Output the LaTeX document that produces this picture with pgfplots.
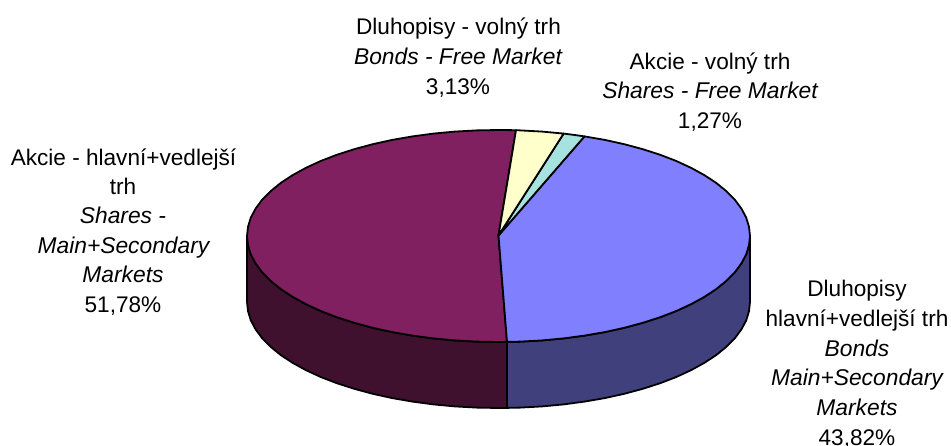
\documentclass[border=0pt]{standalone}
\usepackage{pgfplots}
\pgfplotsset{compat=1.18}
\usepackage{fontspec}
\setmainfont{Liberation Sans}
\tikzset{
  lbl/.style={anchor=base, font=\fontsize{22.6}{24}\selectfont, text=black, inner sep=0pt},
  ilbl/.style={anchor=base, font=\fontsize{22.8}{24}\selectfont\itshape, text=black, inner sep=0pt},
}
\begin{document}
\begin{tikzpicture}
\definecolor{cPurple}{RGB}{128,32,96}
\definecolor{cPurpleD}{RGB}{64,16,47}
\definecolor{cBlue}{RGB}{128,128,255}
\definecolor{cBlueD}{RGB}{64,64,125}
\definecolor{cYellow}{RGB}{255,255,204}
\definecolor{cTeal}{RGB}{166,227,224}
\path[use as bounding box] (0,0) rectangle (951pt,446pt);
\begin{axis}[
  at={(0,0)}, anchor=south west,
  scale only axis, width=951pt, height=446pt,
  xmin=0, xmax=951, ymin=0, ymax=446, y dir=reverse,
  axis lines=none, clip=false,
  every axis plot/.append style={draw=black, line width=1.8pt, line join=round, mark=none},
]
% side walls
\addplot[fill=cPurpleD] coordinates {
(247,236)(248,245.2)(250.8,254.4)(255.6,263.4)(262.2,272.3)(270.6,280.8)(280.7,289)(292.5,296.8)(305.8,304.1)(320.7,311)(336.8,317.2)(354.2,322.8)(372.7,327.8)(392.2,332.1)(412.5,335.6)(433.4,338.4)(454.8,340.4)(476.6,341.6)(498.5,342)(507,341.9)
(507,407.9)(498.5,408)(476.6,407.6)(454.8,406.4)(433.4,404.4)(412.5,401.6)(392.2,398.1)(372.7,393.8)(354.2,388.8)(336.8,383.2)(320.7,377)(305.8,370.1)(292.5,362.8)(280.7,355)(270.6,346.8)(262.2,338.3)(255.6,329.4)(250.8,320.4)(248,311.2)(247,302)
} --cycle;
\addplot[fill=cBlueD] coordinates {
(507,341.9)(520.4,341.6)(542.2,340.4)(563.6,338.4)(584.5,335.6)(604.8,332.1)(624.3,327.8)(642.8,322.8)(660.2,317.2)(676.3,311)(691.2,304.1)(704.5,296.8)(716.3,289)(726.4,280.8)(734.8,272.3)(741.4,263.4)(746.2,254.4)(749,245.2)(750,236)
(750,302)(749,311.2)(746.2,320.4)(741.4,329.4)(734.8,338.3)(726.4,346.8)(716.3,355)(704.5,362.8)(691.2,370.1)(676.3,377)(660.2,383.2)(642.8,388.8)(624.3,393.8)(604.8,398.1)(584.5,401.6)(563.6,404.4)(542.2,406.4)(520.4,407.6)(507,407.9)
} --cycle;
% top: Akcie - hlavni+vedlejsi trh 51,78 %
\addplot[fill=cPurple] coordinates {
(498.5,235.5)(516,130.2)(498.5,130)(476.6,130.4)(454.8,131.6)(433.4,133.6)(412.5,136.4)(392.2,139.9)(372.7,144.2)(354.2,149.2)(336.8,154.8)(320.7,161)(305.8,167.9)(292.5,175.2)(280.7,183)(270.6,191.2)(262.2,199.7)(255.6,208.6)(250.8,217.6)(248,226.8)(247,236)(248,245.2)(250.8,254.4)(255.6,263.4)(262.2,272.3)(270.6,280.8)(280.7,289)(292.5,296.8)(305.8,304.1)(320.7,311)(336.8,317.2)(354.2,322.8)(372.7,327.8)(392.2,332.1)(412.5,335.6)(433.4,338.4)(454.8,340.4)(476.6,341.6)(498.5,342)(507,341.9)
} --cycle;
% top: Dluhopisy hlavni+vedlejsi trh 43,82 %
\addplot[fill=cBlue] coordinates {
(498.5,235.5)(507,341.9)(520.4,341.6)(542.2,340.4)(563.6,338.4)(584.5,335.6)(604.8,332.1)(624.3,327.8)(642.8,322.8)(660.2,317.2)(676.3,311)(691.2,304.1)(704.5,296.8)(716.3,289)(726.4,280.8)(734.8,272.3)(741.4,263.4)(746.2,254.4)(749,245.2)(750,236)(749,226.8)(746.2,217.6)(741.4,208.6)(734.8,199.7)(726.4,191.2)(716.3,183)(704.5,175.2)(691.2,167.9)(676.3,161)(660.2,154.8)(642.8,149.2)(624.3,144.2)(604.8,139.9)(584.5,136.4)
} --cycle;
% top: Akcie - volny trh 1,27 %
\addplot[fill=cTeal] coordinates {
(498.5,235.5)(584.5,136.4)(574,134.9)(563.6,133.6)
} --cycle;
% top: Dluhopisy - volny trh 3,13 %
\addplot[fill=cYellow] coordinates {
(498.5,235.5)(563.6,133.6)(542.2,131.6)(520.4,130.4)(516,130.2)
} --cycle;
% labels
\node[lbl]  at (axis cs:458.5,35) {Dluhopisy - volný trh};
\node[ilbl] at (axis cs:458,65) {Bonds - Free Market};
\node[lbl]  at (axis cs:458,95) {3,13\%};
\node[lbl]  at (axis cs:710,70) {Akcie - volný trh};
\node[ilbl] at (axis cs:710,99) {Shares - Free Market};
\node[lbl]  at (axis cs:710,129) {1,27\%};
\node[lbl]  at (axis cs:123.5,166) {Akcie - hlavní+vedlejší};
\node[lbl]  at (axis cs:123,195) {trh};
\node[ilbl] at (axis cs:123,224) {Shares -};
\node[ilbl] at (axis cs:123.5,254) {Main+Secondary};
\node[ilbl] at (axis cs:123,283) {Markets};
\node[lbl]  at (axis cs:123,313) {51,78\%};
\node[lbl]  at (axis cs:857,297) {Dluhopisy};
\node[lbl]  at (axis cs:857,327) {hlavní+vedlejší trh};
\node[ilbl] at (axis cs:857,357) {Bonds};
\node[ilbl] at (axis cs:857,386) {Main+Secondary};
\node[ilbl] at (axis cs:857,415) {Markets};
\node[lbl]  at (axis cs:857,445) {43,82\%};
\end{axis}
\end{tikzpicture}
\end{document}
